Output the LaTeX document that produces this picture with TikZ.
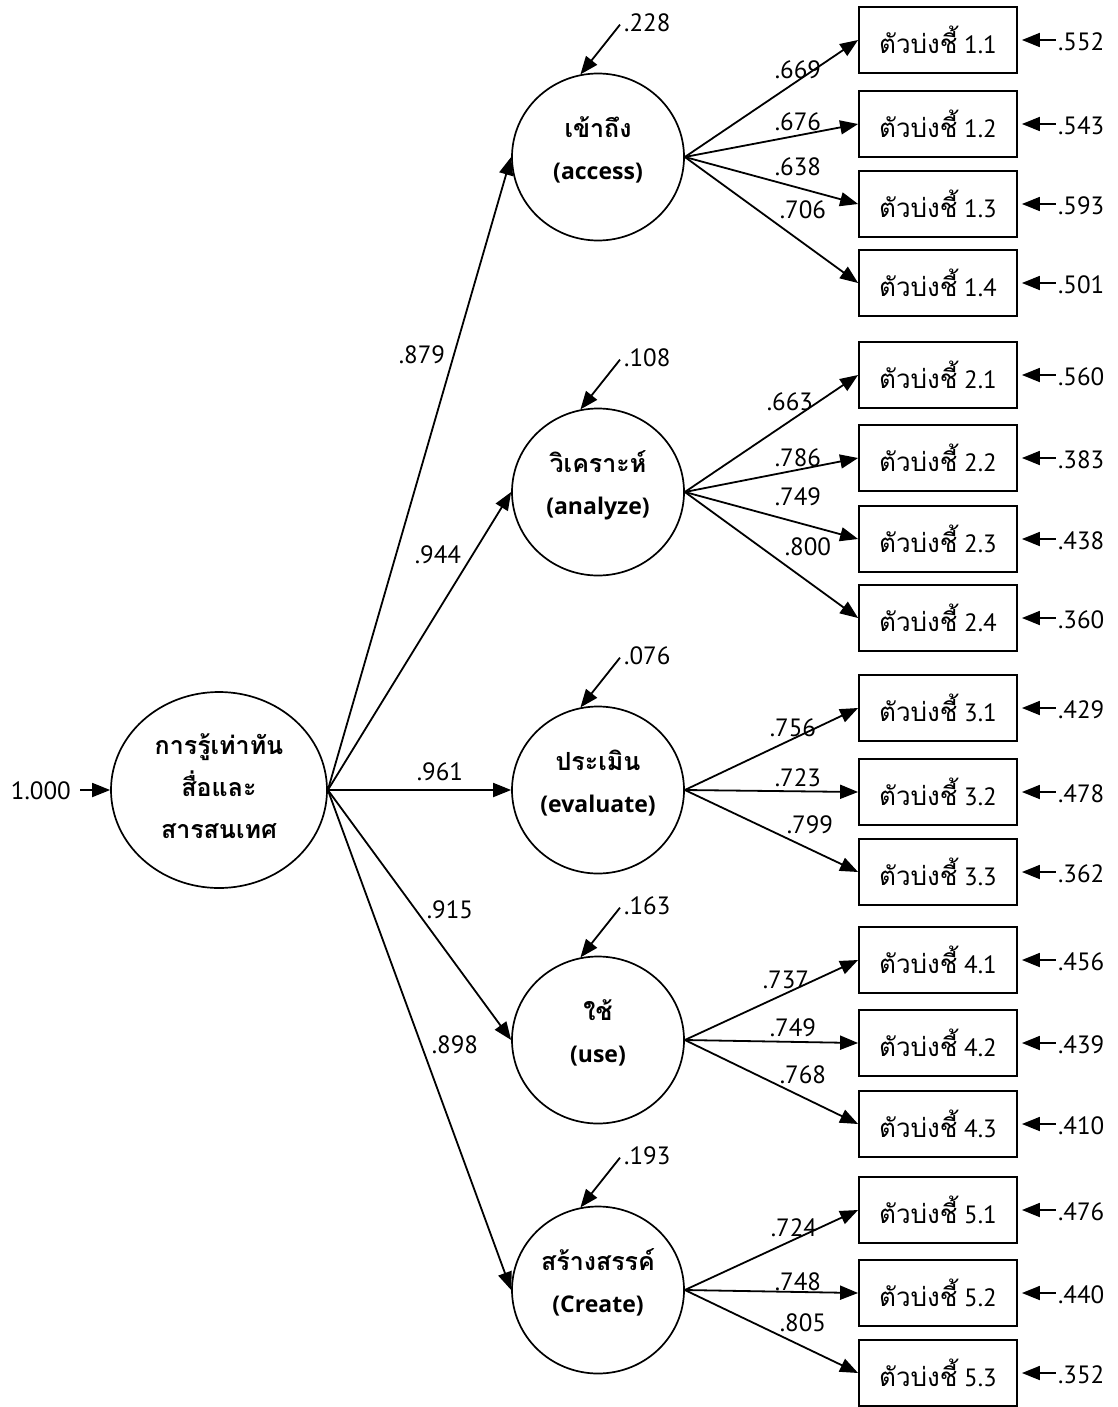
\documentclass[tikz,border=0pt]{standalone}
\usepackage{fontspec}
\setmainfont{PT Sans}
\newfontfamily\thai{Loma}[Script=Thai]
\newfontfamily\osans{Open Sans}
\newcommand\thb[1]{{\thai\bfseries\fontsize{25}{42}\selectfont #1}}
\usetikzlibrary{arrows.meta,shapes.geometric,calc}
\begin{document}
\begin{tikzpicture}[x=1pt,y=-1pt,
  lat/.style={ellipse, draw, line width=1.7pt, minimum width=172pt, minimum height=167pt, inner sep=0pt, align=center, text depth=18pt, font=\osans\bfseries\fontsize{23}{42}\selectfont},
  ind/.style={rectangle, draw, line width=1.8pt, minimum width=158pt, minimum height=66pt, inner sep=0pt, font=\fontsize{25}{28}\selectfont},
  num/.style={font=\fontsize{25}{28}\selectfont, inner sep=1pt},
  arr/.style={-{Triangle[length=18pt,width=14pt]}, line width=1.8pt}]
\useasboundingbox (0,0) rectangle (1118,1407);

% main factor
\node[lat, minimum width=216pt, minimum height=196pt, text depth=8pt] (m) at (219,790) {\thb{การรู้เท่าทัน}\\\thb{สื่อและ}\\\thb{สารสนเทศ}};
\coordinate (m0) at (80,790);
\node[num, anchor=east] (m0l) at (72,791) {1.000};
\draw[arr] (m0) -- (m.west);

% first-order factors
\node[lat] (f1) at (598,157) {\thb{เข้าถึง}\\(access)};
\node[lat] (f2) at (598,492) {\thb{วิเคราะห์}\\(analyze)};
\node[lat] (f3) at (598,790) {\thb{ประเมิน}\\(evaluate)};
\node[lat] (f4) at (598,1040) {\thb{ใช้}\\(use)};
\node[lat] (f5) at (598,1290) {\thb{สร้างสรรค์}\\(Create)};

\draw[arr] (m.east) -- (f1.west);
\draw[arr] (m.east) -- (f2.west);
\draw[arr] (m.east) -- (f3.west);
\draw[arr] (m.east) -- (f4.west);
\draw[arr] (m.east) -- (f5.west);
\node[num] (l1) at (422,355) {.879};
\node[num] (l2) at (438,555) {.944};
\node[num] (l3) at (440,772) {.961};
\node[num] (l4) at (450,910) {.915};
\node[num] (l5) at (455,1045) {.898};

% disturbances
\foreach \f/\v in {f1/.228,f2/.108,f3/.076,f4/.163,f5/.193}{
  \coordinate (\f d) at ($(\f.north)+(22,-48)$);
  \node[num, anchor=west] (\f dl) at ($(\f d)+(3,-2)$) {\v};
  \draw[arr] (\f d) -- (\f.102);
}

% indicators
\foreach \n/\b/\y/\e/\f in {a/1.1/40/.552/f1, b/1.2/124/.543/f1, c/1.3/204/.593/f1, d/1.4/283/.501/f1,
                         e/2.1/375/.560/f2, f/2.2/458/.383/f2, g/2.3/539/.438/f2, h/2.4/618/.360/f2,
                         i/3.1/708/.429/f3, j/3.2/792/.478/f3, k/3.3/872/.362/f3,
                         l/4.1/960/.456/f4, m/4.2/1043/.439/f4, n/4.3/1124/.410/f4,
                         o/5.1/1210/.476/f5, p/5.2/1293/.440/f5, q/5.3/1373/.352/f5}{
  \node[ind] (x\n) at (938,\y) {{\thai\fontsize{26}{28}\selectfont ตัวบ่งชี้} \b};
  \coordinate (e\n) at ($(x\n.east)+(38,0)$);
  \coordinate (t\n) at ($(x\n.east)+(4,0)$);
  \node[num, anchor=west] (el\n) at ($(x\n.east)+(39,2)$) {\e};
  \draw[arr] (e\n) -- (t\n);
  \draw[arr] (\f.east) -- (x\n.west);
}

% loadings
\foreach \t/\x/\y in {.669/798/70, .676/798/122, .638/798/167, .706/803/210,
                      .663/790/402, .786/798/458, .749/798/497, .800/808/547,
                      .756/793/728, .723/798/778, .799/810/825,
                      .737/786/980, .749/793/1028, .768/803/1075,
                      .724/794/1228, .748/798/1282, .805/803/1323}{
  \node[num] at (\x,\y) {\t};
}
\end{tikzpicture}
\end{document}
